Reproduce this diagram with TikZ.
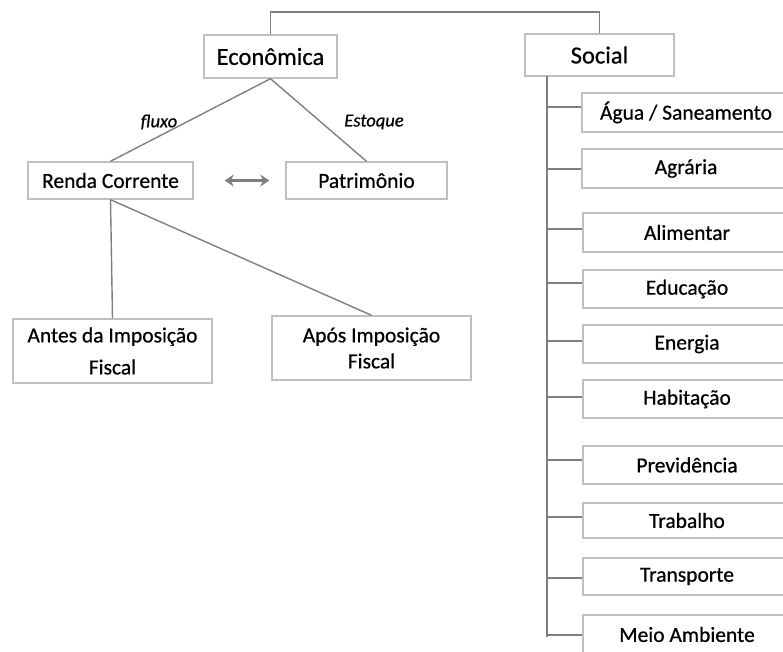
\documentclass[tikz,border=0pt]{standalone}
\usepackage{fontspec}
\setmainfont{Carlito}[FakeBold=0.6]
\usetikzlibrary{arrows.meta}
\definecolor{boxgray}{HTML}{BFBFBF}
\definecolor{linegray}{HTML}{7F7F7F}
\begin{document}
\begin{tikzpicture}[x=1pt,y=-1pt,
  box/.style={draw=boxgray,line width=1.4pt,fill=white,rectangle,inner sep=0pt,align=center,font=\fontsize{21.5}{26}\selectfont},
  bigbox/.style={box,font=\fontsize{24.5}{28}\selectfont},
  conn/.style={draw=linegray,line width=1.4pt},
  lbl/.style={font=\fontsize{18.5}{20}\selectfont\itshape,inner sep=0pt},
  sbox/.style={box,minimum width=208pt}]
\useasboundingbox (0,0) rectangle (783,651);
\node[bigbox,minimum width=133pt,minimum height=43pt] (econ) at (270.5,56.5) {Econômica};
\node[bigbox,minimum width=149pt,minimum height=42pt] (social) at (599.5,55) {Social};
\node[box,minimum width=165pt,minimum height=37pt] (renda) at (110.5,180.5) {Renda Corrente};
\node[box,minimum width=161pt,minimum height=37pt] (patr) at (366.5,180.5) {Patrimônio};
\node[box,minimum width=199pt,minimum height=64pt,font=\fontsize{21.5}{32}\selectfont] (antes) at (112.5,351) {Antes da Imposição\\Fiscal};
\node[box,minimum width=199pt,minimum height=64pt,font=\fontsize{21.5}{26}\selectfont] (apos) at (371.5,348) {Após Imposição\\Fiscal};
\node[lbl] (fluxo) at (159,122) {fluxo};
\node[lbl] (estoque) at (374,122) {Estoque};
% top connector
\coordinate (topline) at (0,12);
\draw[conn] (econ.north) |- (topline -| social.north) -- (social.north);
\draw[conn] (econ.south) -- (renda.north);
\draw[conn] (econ.south) -- (patr.north);
\draw[conn] (renda.south) -- (antes.north);
\draw[conn] (renda.south) -- (apos.north);
\draw[conn,line width=2.4pt,{Stealth[length=9pt,width=12pt]}-{Stealth[length=9pt,width=12pt]}] ([xshift=31pt]renda.east) -- ([xshift=-16pt]patr.west);
% social column
\node[sbox,minimum height=39pt] (s1) at (686,112.5) {Água / Saneamento};
\node[sbox,minimum height=39pt] (s2) at (686,168.5) {Agrária};
\node[sbox,minimum height=39pt] (s3) at (687,232.5) {Alimentar};
\node[sbox,minimum height=38pt] (s4) at (687,289) {Educação};
\node[sbox,minimum height=38pt] (s5) at (687,344) {Energia};
\node[sbox,minimum height=38pt] (s6) at (687,399) {Habitação};
\node[sbox,minimum height=38pt] (s7) at (687,465) {Previdência};
\node[sbox,minimum height=35pt] (s8) at (687,520.5) {Trabalho};
\node[sbox,minimum height=37pt] (s9) at (687,576.5) {Transporte};
\node[sbox,minimum height=39pt] (s10) at (687,634.5) {Meio Ambiente};
\coordinate (spTop) at (547,76);
\coordinate (spBot) at (547,637);
\draw[conn] (spTop) -- (spBot);
\foreach \n/\y in {s1/107,s2/169,s3/229,s4/283,s5/341,s6/397,s7/460,s8/517,s9/578,s10/635}{
  \draw[conn] (spTop |- 0,\y) -- (\n.west |- 0,\y);
}
\end{tikzpicture}
\end{document}
